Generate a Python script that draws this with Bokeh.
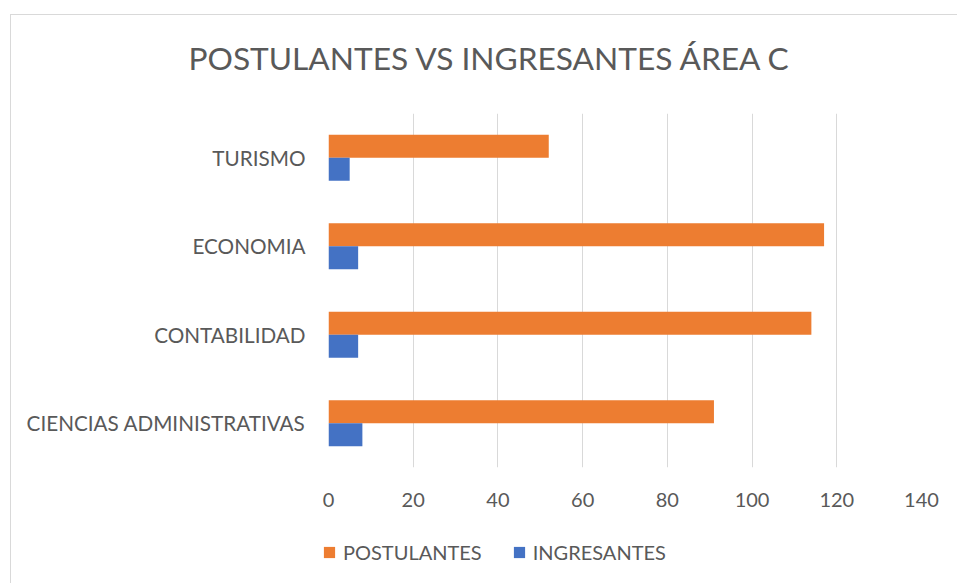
from bokeh.plotting import figure
from bokeh.layouts import column
from bokeh.models import (FactorRange, Range1d, Legend, LegendItem,
                          ColumnDataSource, FixedTicker)
from bokeh.transform import dodge
from bokeh.embed import file_html
from bokeh.resources import INLINE

categories = ["CIENCIAS ADMINISTRATIVAS", "CONTABILIDAD", "ECONOMIA", "TURISMO"]
postulantes = [91, 114, 117, 52]
ingresantes = [8, 7, 7, 5]
x_ticks = [0, 20, 40, 60, 80, 100, 120, 140]
series_names = ["POSTULANTES", "INGRESANTES"]
colors = ["#ED7D31", "#4472C4"]
title_text = "POSTULANTES VS INGRESANTES ÁREA C"

FONT = "Lato"
TXT = "#595959"
W = 946

source = ColumnDataSource(dict(cat=categories, post=postulantes, ing=ingresantes))

# title strip
p0 = figure(width=W, height=92, x_range=Range1d(0, 1), y_range=Range1d(0, 1),
            x_axis_location=None, y_axis_location=None,
            output_backend="svg", toolbar_location=None, min_border=0)
p0.frame_align = False
p0.grid.visible = False
p0.outline_line_color = None
p0.title.text = title_text
p0.title.align = "left"
p0.title.offset = 177
p0.title.standoff = 42
p0.title.text_font = FONT
p0.title.text_font_size = "31.7px"
p0.title.text_font_style = "normal"
p0.title.text_color = TXT

# main chart
p = figure(width=W, height=418,
           y_range=FactorRange(*categories), x_range=Range1d(0, 140),
           output_backend="svg", toolbar_location=None,
           min_border_left=317, min_border_right=36,
           min_border_top=6, min_border_bottom=58)
p.frame_align = False
p.title.text = ""
p.title.standoff = 0
p.title.text_font_size = "1px"

r1 = p.hbar(y=dodge("cat", 0.13, range=p.y_range), left=0, right="post",
            height=0.26, source=source, fill_color=colors[0], line_color=None)
r2 = p.hbar(y=dodge("cat", -0.13, range=p.y_range), left=0, right="ing",
            height=0.26, source=source, fill_color=colors[1], line_color=None)

p.xaxis.ticker = FixedTicker(ticks=x_ticks)
p.xgrid.ticker = FixedTicker(ticks=x_ticks)
for ax in (p.xaxis[0], p.yaxis[0]):
    ax.axis_line_color = None
    ax.major_tick_line_color = None
    ax.minor_tick_line_color = None
    ax.major_label_text_font = FONT
    ax.major_label_text_color = TXT
p.xaxis.major_label_text_font_size = "20px"
p.yaxis.major_label_text_font_size = "20.7px"
p.xaxis.major_label_standoff = 19
p.yaxis.major_label_standoff = 17

p.xgrid.grid_line_color = "#d9d9d9"
p.ygrid.grid_line_color = None
p.outline_line_color = None

# legend strip below the chart (its own frame, not aligned with the chart's)
p2 = figure(width=W, height=58, x_range=Range1d(0, 140),
            y_range=FactorRange(*categories),
            x_axis_location=None, y_axis_location=None,
            output_backend="svg", toolbar_location=None, min_border=0)
p2.frame_align = False
p2.grid.visible = False
p2.outline_line_color = None
d1 = p2.hbar(y="cat", left=0, right="post", height=0.26, source=source,
             fill_color=colors[0], line_color=None, visible=False)
d2 = p2.hbar(y="cat", left=0, right="ing", height=0.26, source=source,
             fill_color=colors[1], line_color=None, visible=False)

legend = Legend(items=[LegendItem(label=series_names[0], renderers=[d1]),
                       LegendItem(label=series_names[1], renderers=[d2])],
                location=(311, 19), orientation="horizontal",
                glyph_width=14, glyph_height=14, label_standoff=7,
                spacing=30, padding=0, margin=0,
                inactive_fill_alpha=0,
                border_line_color=None, background_fill_alpha=0,
                label_text_font=FONT, label_text_color=TXT,
                label_text_font_size="20px")
p2.add_layout(legend)

layout = column(p0, p, p2, spacing=0, margin=(14, 0, 0, 10),
                styles={"border-left": "1px solid #d9d9d9",
                        "border-top": "1px solid #d9d9d9"})

open("out.html", "w").write(file_html(layout, INLINE))
